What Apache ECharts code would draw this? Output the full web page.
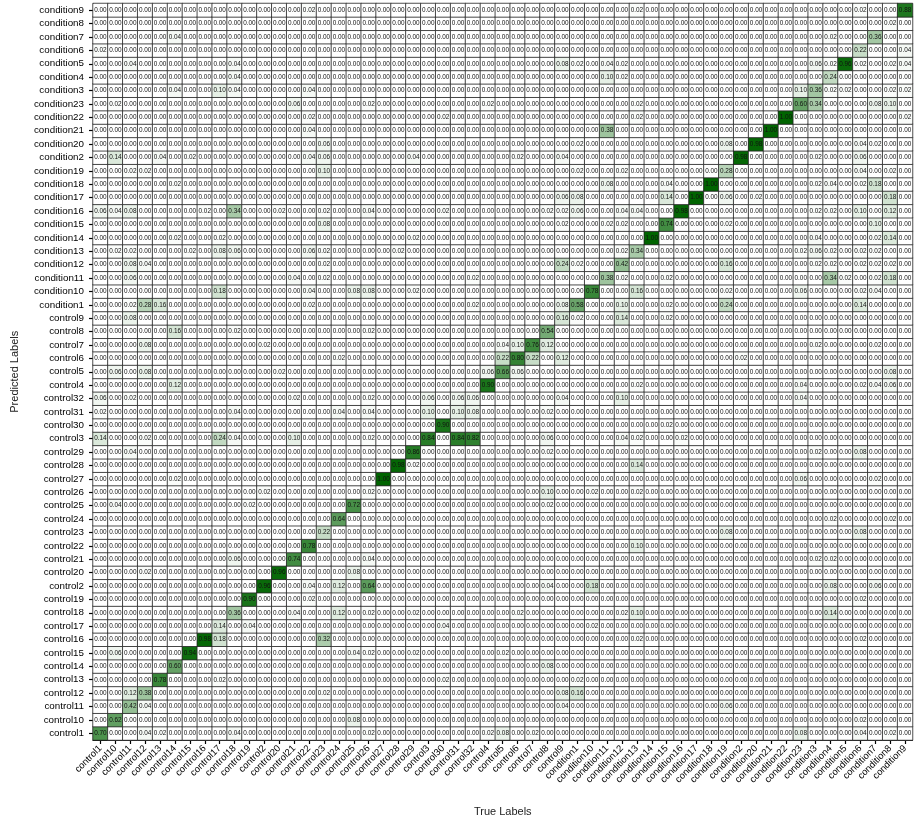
<!DOCTYPE html>
<html><head><meta charset="utf-8">
<script src="https://cdn.jsdelivr.net/npm/echarts@6/dist/echarts.min.js"></script>
<style>html,body{margin:0;padding:0;background:#fff}#chart{width:916px;height:822px}</style>
</head><body><div id="chart"></div>
<script>
// Category labels (x: True Labels left->right, y: Predicted Labels bottom->top)
const labels = ['control1','control10','control11','control12','control13','control14','control15','control16','control17','control18','control19','control2','control20','control21','control22','control23','control24','control25','control26','control27','control28','control29','control3','control30','control31','control32','control4','control5','control6','control7','control8','control9','condition1','condition10','condition11','condition12','condition13','condition14','condition15','condition16','condition17','condition18','condition19','condition2','condition20','condition21','condition22','condition23','condition3','condition4','condition5','condition6','condition7','condition8','condition9'];

// Non-zero cells: [trueIndex, predictedIndex, value]; every other cell is 0.00
const nonZeroCells = [
  [54,54,0.88],[14,54,0.02],[36,54,0.02],[51,54,0.02],
  [53,53,0.02],
  [5,52,0.04],[49,52,0.02],[52,52,0.36],
  [0,51,0.02],[51,51,0.22],[54,51,0.04],
  [2,50,0.04],[9,50,0.04],[31,50,0.08],[32,50,0.02],[34,50,0.04],[35,50,0.02],[48,50,0.06],[49,50,0.02],[50,50,0.96],[51,50,0.02],[53,50,0.02],[54,50,0.04],
  [9,49,0.04],[34,49,0.10],[35,49,0.02],[49,49,0.24],
  [5,48,0.04],[8,48,0.10],[9,48,0.04],[14,48,0.04],[47,48,0.10],[48,48,0.36],[49,48,0.02],[50,48,0.02],[53,48,0.02],[54,48,0.02],
  [1,47,0.02],[13,47,0.06],[18,47,0.02],[26,47,0.02],[36,47,0.02],[47,47,0.60],[48,47,0.34],[52,47,0.08],[53,47,0.10],
  [14,46,0.02],[23,46,0.02],[36,46,0.02],[46,46,1.00],[54,46,0.02],
  [14,45,0.04],[34,45,0.38],[45,45,1.00],
  [15,44,0.06],[32,44,0.02],[42,44,0.08],[44,44,0.98],[51,44,0.04],[52,44,0.02],
  [1,43,0.14],[4,43,0.04],[6,43,0.02],[14,43,0.04],[15,43,0.06],[21,43,0.04],[28,43,0.02],[31,43,0.04],[43,43,0.98],[48,43,0.02],[51,43,0.06],
  [2,42,0.02],[3,42,0.02],[15,42,0.10],[32,42,0.02],[35,42,0.02],[42,42,0.28],[51,42,0.04],[53,42,0.02],
  [5,41,0.02],[34,41,0.08],[38,41,0.04],[41,41,1.00],[48,41,0.02],[49,41,0.04],[51,41,0.02],[52,41,0.18],
  [31,40,0.06],[32,40,0.08],[38,40,0.14],[40,40,1.00],[42,40,0.06],[44,40,0.02],[53,40,0.18],
  [0,39,0.06],[1,39,0.04],[2,39,0.08],[7,39,0.02],[9,39,0.34],[12,39,0.02],[15,39,0.02],[18,39,0.04],[23,39,0.02],[30,39,0.02],[31,39,0.02],[32,39,0.06],[35,39,0.04],[36,39,0.04],[39,39,0.98],[48,39,0.02],[49,39,0.02],[51,39,0.10],[53,39,0.12],
  [15,38,0.08],[31,38,0.02],[34,38,0.02],[35,38,0.02],[38,38,0.74],[42,38,0.02],[52,38,0.10],
  [5,37,0.02],[8,37,0.02],[21,37,0.02],[37,37,1.00],[48,37,0.04],[52,37,0.02],[53,37,0.14],
  [1,36,0.02],[2,36,0.02],[6,36,0.02],[8,36,0.08],[9,36,0.06],[14,36,0.06],[15,36,0.02],[20,36,0.02],[35,36,0.02],[36,36,0.34],[47,36,0.02],[48,36,0.06],[49,36,0.02],[51,36,0.02],[52,36,0.02],
  [2,35,0.08],[3,35,0.04],[15,35,0.02],[31,35,0.24],[32,35,0.02],[35,35,0.42],[42,35,0.16],[48,35,0.02],[49,35,0.02],[51,35,0.02],[52,35,0.02],[53,35,0.02],
  [2,34,0.06],[13,34,0.04],[15,34,0.02],[25,34,0.02],[34,34,0.38],[35,34,0.02],[38,34,0.02],[49,34,0.34],[50,34,0.02],[52,34,0.02],[53,34,0.18],
  [8,33,0.18],[14,33,0.04],[17,33,0.08],[18,33,0.08],[21,33,0.02],[33,33,0.78],[36,33,0.16],[42,33,0.02],[47,33,0.06],[51,33,0.02],[52,33,0.04],
  [2,32,0.02],[3,32,0.28],[4,32,0.16],[14,32,0.02],[25,32,0.02],[31,32,0.08],[32,32,0.58],[35,32,0.10],[38,32,0.02],[42,32,0.24],[51,32,0.14],
  [2,31,0.08],[31,31,0.16],[32,31,0.02],[35,31,0.14],[38,31,0.02],
  [5,30,0.16],[9,30,0.02],[18,30,0.02],[30,30,0.54],
  [3,29,0.08],[11,29,0.02],[27,29,0.04],[28,29,0.10],[29,29,0.76],[30,29,0.12],[48,29,0.02],[52,29,0.02],
  [16,28,0.02],[27,28,0.22],[28,28,0.80],[29,28,0.22],[31,28,0.12],[43,28,0.02],
  [1,27,0.06],[3,27,0.08],[12,27,0.02],[26,27,0.06],[27,27,0.66],[28,27,0.06],[53,27,0.08],
  [5,26,0.12],[26,26,0.90],[36,26,0.02],[47,26,0.04],[51,26,0.02],[52,26,0.04],[53,26,0.06],
  [0,25,0.06],[2,25,0.02],[13,25,0.02],[18,25,0.02],[22,25,0.06],[24,25,0.06],[25,25,0.06],[31,25,0.04],[35,25,0.10],[47,25,0.04],
  [0,24,0.02],[9,24,0.04],[16,24,0.04],[18,24,0.04],[22,24,0.10],[24,24,0.10],[25,24,0.08],[30,24,0.02],
  [23,23,0.90],[38,23,0.02],
  [0,22,0.14],[3,22,0.02],[8,22,0.24],[9,22,0.04],[13,22,0.10],[18,22,0.02],[22,22,0.84],[24,22,0.84],[25,22,0.82],[30,22,0.06],[35,22,0.04],[36,22,0.02],[39,22,0.02],
  [2,21,0.04],[21,21,0.86],[30,21,0.02],[48,21,0.02],[51,21,0.08],
  [20,20,0.98],[21,20,0.02],[36,20,0.14],
  [5,19,0.02],[19,19,1.00],[47,19,0.06],[52,19,0.02],
  [11,18,0.02],[18,18,0.02],[30,18,0.10],[33,18,0.02],[36,18,0.02],
  [1,17,0.04],[10,17,0.02],[17,17,0.72],[30,17,0.02],
  [16,16,0.64],[49,16,0.02],[53,16,0.02],
  [15,15,0.22],[42,15,0.08],[51,15,0.08],
  [14,14,0.78],[36,14,0.10],
  [9,13,0.06],[13,13,0.74],[18,13,0.04],[48,13,0.02],[49,13,0.02],
  [3,12,0.02],[12,12,0.96],[17,12,0.08],
  [11,11,0.96],[14,11,0.04],[16,11,0.12],[18,11,0.64],[30,11,0.04],[33,11,0.18],[49,11,0.08],[52,11,0.06],
  [10,10,0.90],[14,10,0.02],[51,10,0.02],
  [9,9,0.36],[13,9,0.04],[16,9,0.12],[18,9,0.02],[21,9,0.02],[28,9,0.02],[35,9,0.02],[36,9,0.10],[49,9,0.14],
  [8,8,0.14],[10,8,0.04],[23,8,0.04],[33,8,0.02],
  [7,7,0.98],[8,7,0.18],[15,7,0.32],[36,7,0.02],[51,7,0.02],
  [1,6,0.06],[6,6,0.94],[17,6,0.04],[18,6,0.02],[21,6,0.02],[27,6,0.02],
  [5,5,0.60],[30,5,0.08],
  [4,4,0.78],[8,4,0.02],[23,4,0.02],[32,4,0.02],
  [2,3,0.12],[3,3,0.38],[15,3,0.02],[31,3,0.08],[32,3,0.16],
  [2,2,0.42],[3,2,0.04],[31,2,0.04],[42,2,0.06],
  [1,1,0.62],[17,1,0.08],[51,1,0.02],
  [0,0,0.70],[3,0,0.04],[4,0,0.02],[9,0,0.04],[18,0,0.02],[26,0,0.02],[27,0,0.08],[29,0,0.02],[47,0,0.08],[51,0,0.04],[53,0,0.02]
];

const lookup = new Map(nonZeroCells.map(c => [c[0] + ',' + c[1], c[2]]));
const heatData = [];
for (let x = 0; x < labels.length; x++) {
  for (let y = 0; y < labels.length; y++) {
    heatData.push([x, y, lookup.get(x + ',' + y) || 0]);
  }
}

const FONT = 'Liberation Sans';
const chart = echarts.init(document.getElementById('chart'), null, {renderer: 'canvas'});
chart.setOption({
  animation: false,
  backgroundColor: '#ffffff',
  grid: {left: 93, top: 3.5, width: 819.5, height: 744.7, containLabel: false},
  xAxis: {
    type: 'category', data: labels, position: 'bottom',
    name: 'True Labels', nameLocation: 'middle', nameGap: 66,
    nameTextStyle: {fontFamily: FONT, fontSize: 11, color: '#222'},
    axisLine: {show: true, lineStyle: {color: '#000', width: 1}},
    axisTick: {show: true, alignWithLabel: true, length: 4, lineStyle: {color: '#000', width: 1.2}},
    axisLabel: {interval: 0, rotate: 45, fontFamily: FONT, fontSize: 9.5, color: '#000', margin: 7},
    splitLine: {show: false}, splitArea: {show: false}
  },
  yAxis: {
    type: 'category', data: labels,
    name: 'Predicted Labels', nameLocation: 'middle', nameGap: 73, nameRotate: 90,
    nameTextStyle: {fontFamily: FONT, fontSize: 11, color: '#222'},
    axisLine: {show: true, lineStyle: {color: '#000', width: 1}},
    axisTick: {show: true, alignWithLabel: true, length: 4, lineStyle: {color: '#000', width: 1.2}},
    axisLabel: {interval: 0, fontFamily: FONT, fontSize: 9.8, color: '#000', margin: 9},
    splitLine: {show: false}, splitArea: {show: false}
  },
  visualMap: {
    show: false, min: 0, max: 1, calculable: false, dimension: 2,
    inRange: {color: ['#ffffff', '#006400']}
  },
  series: [{
    type: 'heatmap',
    data: heatData,
    label: {
      show: true, fontFamily: FONT, fontSize: 6.4, color: '#111',
      formatter: p => p.value[2].toFixed(2)
    },
    itemStyle: {borderColor: '#222', borderWidth: 0.8},
    emphasis: {disabled: true}
  }]
});
</script>
</body></html>
